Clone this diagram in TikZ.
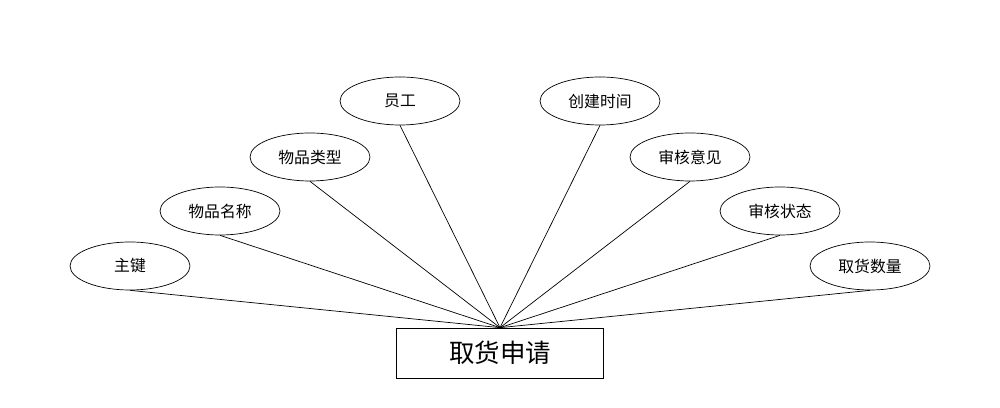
\documentclass[tikz,border=0pt]{standalone}
\usepackage{fontspec}
\setmainfont{Noto Sans CJK SC}
\usetikzlibrary{shapes.geometric}
\tikzset{
  attr/.style={draw,ellipse,minimum width=2.4cm,minimum height=0.96cm,inner sep=0pt,font=\fontsize{9}{10}\selectfont},
  entity/.style={draw,minimum width=4.14cm,minimum height=1cm,font=\fontsize{14.5}{16}\selectfont}
}
\begin{document}
\begin{tikzpicture}[x=0.02cm,y=-0.02cm]
    \useasboundingbox (0,0) rectangle (1000,408);

    % Entity
    \node[entity] (req) at (500,353) {取货申请};

    % Attributes
    \node[attr] (key) at (130,266) {主键};
    \node[attr] (name) at (220,211) {物品名称};
    \node[attr] (type) at (310,157) {物品类型};
    \node[attr] (staff) at (400,101) {员工};
    \node[attr] (time) at (600,101) {创建时间};
    \node[attr] (opinion) at (690,157) {审核意见};
    \node[attr] (state) at (780,211) {审核状态};
    \node[attr] (qty) at (870,266) {取货数量};

    % Connectors
    \foreach \a in {key,name,type,staff,time,opinion,state,qty} {
        \draw (\a.south) -- (req.north);
    }
\end{tikzpicture}
\end{document}
